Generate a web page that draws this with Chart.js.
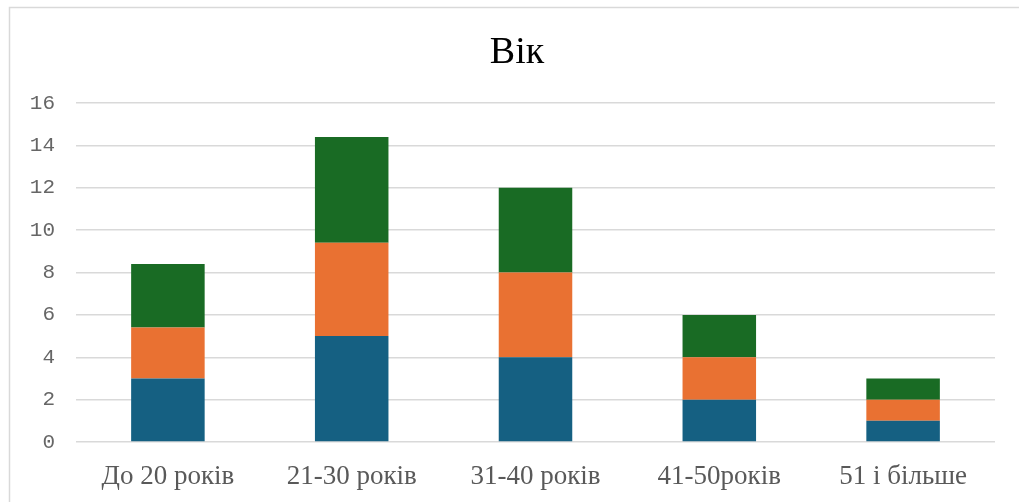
<!DOCTYPE html>
<html>
<head>
<meta charset="utf-8">
<script src="https://cdn.jsdelivr.net/npm/chart.js@4.4.1/dist/chart.umd.min.js"></script>
<style>
html,body{margin:0;padding:0;background:#fff;}
#wrap{width:1019px;height:502px;position:relative;}
</style>
</head>
<body>
<div id="wrap"><canvas id="c" width="1019" height="502"></canvas></div>
<script>
const categories = ['До 20 років', '21-30 років', '31-40 років', '41-50років', '51 і більше'];
const seriesBlue = [3, 5, 4, 2, 1];
const seriesOrange = [2.4, 4.4, 4, 2, 1];
const seriesGreen = [3, 5, 4, 2, 1];
const titleText = 'Вік';

const frame = {
  id: 'frame',
  beforeDraw(chart) {
    const ctx = chart.ctx;
    ctx.save();
    ctx.fillStyle = '#fff';
    ctx.fillRect(0, 0, chart.width, chart.height);
    ctx.strokeStyle = '#d9d9d9';
    ctx.lineWidth = 1.5;
    ctx.strokeRect(9.5, 7.5, chart.width + 10, chart.height + 10);
    ctx.restore();
  },
  afterDraw(chart) {
    const ctx = chart.ctx;
    ctx.save();
    ctx.fillStyle = '#000';
    ctx.font = '38px "Liberation Serif", serif';
    ctx.textAlign = 'center';
    ctx.textBaseline = 'alphabetic';
    ctx.fillText(titleText, 517, 63);
    ctx.restore();
  }
};

new Chart(document.getElementById('c'), {
  type: 'bar',
  data: {
    labels: categories,
    datasets: [
      { data: seriesBlue, backgroundColor: '#156082', borderWidth: 0 },
      { data: seriesOrange, backgroundColor: '#E97132', borderWidth: 0 },
      { data: seriesGreen, backgroundColor: '#196B24', borderWidth: 0 }
    ]
  },
  options: {
    responsive: false,
    animation: false,
    layout: { padding: { left: 0, right: 24, top: 103, bottom: 0 } },
    datasets: { bar: { barPercentage: 0.4, categoryPercentage: 1 } },
    plugins: {
      legend: { display: false },
      tooltip: { enabled: false },
      title: { display: false }
    },
    scales: {
      x: {
        stacked: true,
        afterFit(s) { s.height = 60; },
        grid: { display: false, drawTicks: false },
        border: { display: false },
        ticks: {
          color: '#595959',
          padding: 19,
          maxRotation: 0,
          font: { family: '"Liberation Serif", serif', size: 27 }
        }
      },
      y: {
        stacked: true,
        min: 0, max: 16,
        afterFit(s) { s.width = 76; },
        grid: { color: '#d9d9d9', lineWidth: 1.5, drawTicks: false },
        border: { display: false },
        ticks: {
          stepSize: 2,
          color: '#666666',
          padding: 21,
          font: { family: '"Liberation Mono", monospace', size: 21 }
        }
      }
    }
  },
  plugins: [frame]
});
</script>
</body>
</html>
